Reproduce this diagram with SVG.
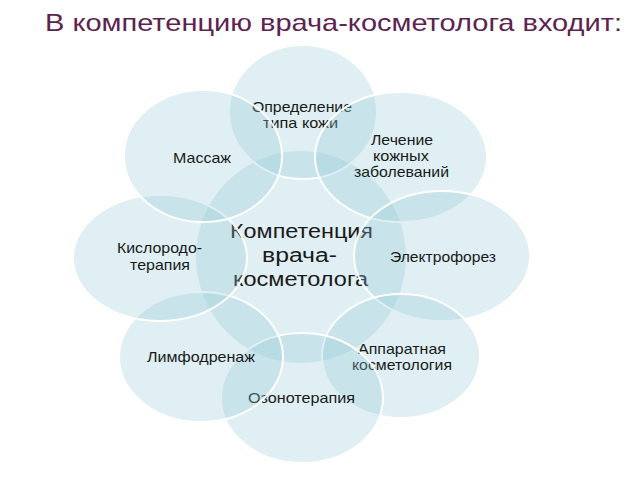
<svg xmlns="http://www.w3.org/2000/svg" width="640" height="480" viewBox="0 0 640 480">
<style>
.c{fill:rgb(150,202,214);fill-opacity:0.3;stroke:#fff;stroke-width:2}
.t{font-family:"Liberation Sans",Arial,sans-serif;font-size:15px;fill:#1a1a1a;text-anchor:middle}
.m{font-family:"Liberation Sans",Arial,sans-serif;font-size:20px;fill:#1a1a1a;text-anchor:middle}
.h{font-family:"Liberation Sans",Arial,sans-serif;font-size:24px;fill:#5c2350;text-anchor:middle}
</style>
<rect width="640" height="480" fill="#fff"/>
<text class="h" x="333.5" y="31" textLength="577" lengthAdjust="spacingAndGlyphs">В компетенцию врача-косметолога входит:</text>
<g id="center">
<ellipse class="c" cx="301" cy="257" rx="106" ry="107"/>
<text class="m" x="301.5" y="238" textLength="143" lengthAdjust="spacingAndGlyphs">Компетенция</text>
<text class="m" x="299.5" y="262" textLength="75" lengthAdjust="spacingAndGlyphs">врача-</text>
<text class="m" x="300.5" y="286" textLength="135" lengthAdjust="spacingAndGlyphs">косметолога</text>
</g>
<g id="skin-type">
<ellipse class="c" cx="303" cy="112" rx="74" ry="67"/>
<text class="t" x="302" y="112" textLength="100" lengthAdjust="spacingAndGlyphs">Определение</text>
<text class="t" x="300.5" y="128" textLength="75" lengthAdjust="spacingAndGlyphs">типа кожи</text>
</g>
<g id="skin-diseases">
<ellipse class="c" cx="401" cy="157" rx="86" ry="65"/>
<text class="t" x="402" y="145" textLength="62" lengthAdjust="spacingAndGlyphs">Лечение</text>
<text class="t" x="401" y="161" textLength="56" lengthAdjust="spacingAndGlyphs">кожных</text>
<text class="t" x="401.5" y="177" textLength="95" lengthAdjust="spacingAndGlyphs">заболеваний</text>
</g>
<g id="electrophoresis">
<ellipse class="c" cx="442" cy="256" rx="88" ry="65"/>
<text class="t" x="443" y="262" textLength="106" lengthAdjust="spacingAndGlyphs">Электрофорез</text>
</g>
<g id="hardware-cosmetology">
<ellipse class="c" cx="401" cy="356" rx="79" ry="62"/>
<text class="t" x="402" y="354" textLength="88" lengthAdjust="spacingAndGlyphs">Аппаратная</text>
<text class="t" x="402" y="370" textLength="100" lengthAdjust="spacingAndGlyphs">косметология</text>
</g>
<g id="ozone-therapy">
<ellipse class="c" cx="302" cy="398" rx="81" ry="65"/>
<text class="t" x="301.5" y="403" textLength="107" lengthAdjust="spacingAndGlyphs">Озонотерапия</text>
</g>
<g id="lymph-drainage">
<ellipse class="c" cx="201" cy="357" rx="82" ry="65"/>
<text class="t" x="201" y="362" textLength="108" lengthAdjust="spacingAndGlyphs">Лимфодренаж</text>
</g>
<g id="oxygen-therapy">
<ellipse class="c" cx="160" cy="258" rx="87" ry="63"/>
<text class="t" x="159.5" y="253" textLength="85" lengthAdjust="spacingAndGlyphs">Кислородо-</text>
<text class="t" x="160" y="270" textLength="60" lengthAdjust="spacingAndGlyphs">терапия</text>
</g>
<g id="massage">
<ellipse class="c" cx="203" cy="156" rx="79" ry="66"/>
<text class="t" x="202" y="163" textLength="58" lengthAdjust="spacingAndGlyphs">Массаж</text>
</g>
<g id="connectors"/>
</svg>
